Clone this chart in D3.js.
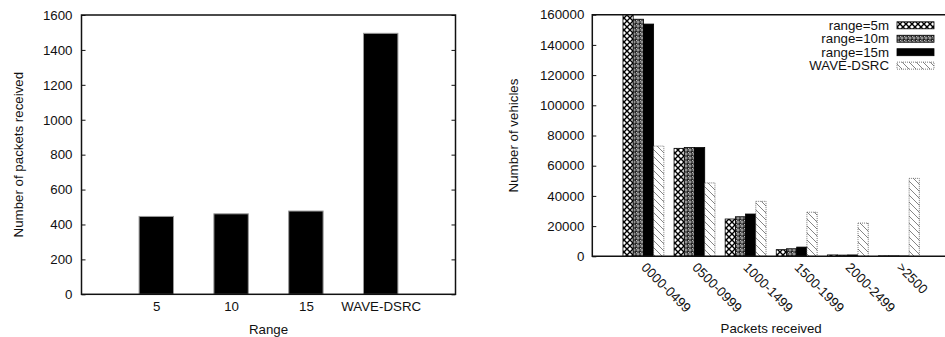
<!DOCTYPE html>
<html>
<head>
<meta charset="utf-8">
<script src="https://cdn.jsdelivr.net/npm/d3@7"></script>
<style>
  html, body { margin: 0; padding: 0; background: #fff; }
  svg { display: block; }
  text { font-family: "Liberation Sans", Arial, sans-serif; fill: #111; }
</style>
</head>
<body>
<svg id="chart" width="945" height="337"></svg>
<script>
// Left panel: packets received per transmission range
const rangeCategories = ["5", "10", "15", "WAVE-DSRC"];
const packetsReceived = [446, 461, 477, 1495];
const leftYTicks = [0, 200, 400, 600, 800, 1000, 1200, 1400, 1600];

// Right panel: distribution of vehicles over packets received
const packetBins = ["0000-0499", "0500-0999", "1000-1499", "1500-1999", "2000-2499", ">2500"];
const seriesNames = ["range=5m", "range=10m", "range=15m", "WAVE-DSRC"];
const vehicles5m   = [160000, 71500, 24700, 4400, 900, 300];
const vehicles10m  = [157000, 72000, 26200, 5000, 800, 300];
const vehicles15m  = [153800, 72000, 28000, 6100, 900, 200];
const vehiclesWave = [73000, 48600, 36400, 29200, 22000, 51600];
const rightYTicks = [0, 20000, 40000, 60000, 80000, 100000, 120000, 140000, 160000];

const svg = d3.select("#chart");
const FONT = 13.3;
const plain = d3.format("d");

// ---------- fill patterns ----------
const defs = svg.append("defs");
const cross = defs.append("pattern").attr("id", "pCross")
  .attr("patternUnits", "userSpaceOnUse").attr("width", 6).attr("height", 6);
cross.append("rect").attr("width", 6).attr("height", 6).attr("fill", "#fff");
cross.append("path").attr("d", "M0,0L6,6M6,0L0,6").attr("stroke", "#000").attr("stroke-width", 1.4);

const dots = defs.append("pattern").attr("id", "pDots")
  .attr("patternUnits", "userSpaceOnUse").attr("width", 4).attr("height", 4);
dots.append("rect").attr("width", 4).attr("height", 4).attr("fill", "#222");
dots.append("circle").attr("cx", 2).attr("cy", 2).attr("r", 1.1).attr("fill", "none")
  .attr("stroke", "#ddd").attr("stroke-width", 0.8);
dots.append("rect").attr("x", 0).attr("y", 0).attr("width", 1).attr("height", 1).attr("fill", "#bbb");

const hatch = defs.append("pattern").attr("id", "pHatch")
  .attr("patternUnits", "userSpaceOnUse").attr("width", 7).attr("height", 7);
hatch.append("rect").attr("width", 7).attr("height", 7).attr("fill", "#fff");
hatch.append("path").attr("d", "M0,0L7,7M-1,6L1,8M6,-1L8,1")
  .attr("stroke", "#777").attr("stroke-width", 0.9);

const seriesStyle = [
  { fill: "url(#pCross)", stroke: "#000", dash: null },
  { fill: "url(#pDots)",  stroke: "#000", dash: null },
  { fill: "#000",         stroke: "#000", dash: null },
  { fill: "url(#pHatch)", stroke: "#555", dash: "1,1" }
];

function styleTickText(sel) {
  sel.selectAll("text").attr("font-size", FONT)
    .style("font-family", "'Liberation Sans', Arial, sans-serif").attr("fill", "#111");
}

// ---------- left panel ----------
{
  const L = 81.5, R = 455.5, T = 15, B = 294.3;
  const x = d3.scaleLinear().domain([0, 5]).range([L, R]);
  const y = d3.scaleLinear().domain([0, 1600]).range([B, T]);
  const g = svg.append("g");

  const bw = x(0.46) - x(0);
  g.selectAll("rect.bar").data(packetsReceived).join("rect")
    .attr("class", "bar")
    .attr("x", (d, i) => x(i + 1) - bw / 2)
    .attr("y", d => y(d))
    .attr("width", bw)
    .attr("height", d => B - y(d))
    .attr("fill", "#000")
    .attr("stroke", "#999").attr("stroke-width", 1);

  // y axis with mirrored ticks
  const ya = g.append("g").attr("transform", `translate(${L},0)`)
    .call(d3.axisLeft(y).tickValues(leftYTicks).tickSize(-4).tickPadding(9).tickFormat(plain));
  ya.select(".domain").remove();
  ya.selectAll("line").attr("stroke", "#111").attr("stroke-width", 1);
  styleTickText(ya);
  const yr = g.append("g").attr("transform", `translate(${R},0)`)
    .call(d3.axisRight(y).tickValues(leftYTicks).tickSize(-4).tickFormat(""));
  yr.select(".domain").remove();
  yr.selectAll("line").attr("stroke", "#111").attr("stroke-width", 1);

  // category labels
  const xa = g.append("g").attr("transform", `translate(0,${B})`)
    .call(d3.axisBottom(x).tickValues([1, 2, 3, 4]).tickSize(0).tickPadding(7)
      .tickFormat((d) => rangeCategories[d - 1]));
  xa.select(".domain").remove();
  styleTickText(xa);

  g.append("rect").attr("x", L).attr("y", T).attr("width", R - L).attr("height", B - T)
    .attr("fill", "none").attr("stroke", "#111").attr("stroke-width", 1.5);

  g.append("text").attr("x", (L + R) / 2).attr("y", 334).attr("text-anchor", "middle")
    .attr("font-size", FONT).text("Range");
  g.append("text").attr("transform", `translate(22.5,${(T + B) / 2}) rotate(-90)`)
    .attr("text-anchor", "middle").attr("font-size", FONT).text("Number of packets received");
}

// ---------- right panel ----------
{
  const L = 592.3, R = 950, T = 14.7, B = 256.3;
  const x = d3.scaleLinear().domain([-1, 6]).range([L, R]);
  const y = d3.scaleLinear().domain([0, 160000]).range([B, T]);
  const g = svg.append("g");
  const series = [vehicles5m, vehicles10m, vehicles15m, vehiclesWave];
  const bw = x(0.2) - x(0);

  series.forEach((vals, s) => {
    const st = seriesStyle[s];
    g.selectAll(`rect.s${s}`).data(vals).join("rect")
      .attr("class", `s${s}`)
      .attr("x", (d, i) => x(i + (s - 2) * 0.2))
      .attr("y", d => y(d))
      .attr("width", bw)
      .attr("height", d => B - y(d))
      .attr("fill", st.fill)
      .attr("stroke", st.stroke).attr("stroke-width", 0.8)
      .attr("stroke-dasharray", st.dash);
  });

  const ya = g.append("g").attr("transform", `translate(${L},0)`)
    .call(d3.axisLeft(y).tickValues(rightYTicks).tickSize(-4).tickPadding(8).tickFormat(plain));
  ya.select(".domain").remove();
  ya.selectAll("line").attr("stroke", "#111").attr("stroke-width", 1);
  styleTickText(ya);

  // frame: left, bottom, top
  g.append("path").attr("d", `M${R},${T}H${L}V${B}H${R}`)
    .attr("fill", "none").attr("stroke", "#111").attr("stroke-width", 1.5);

  // rotated category labels
  g.selectAll("text.bin").data(packetBins).join("text")
    .attr("class", "bin")
    .attr("transform", (d, i) => `translate(${x(i) - 3},${B + 12}) rotate(45)`)
    .attr("font-size", FONT).text(d => d);

  g.append("text").attr("x", (L + R) / 2).attr("y", 333).attr("text-anchor", "middle")
    .attr("font-size", FONT).text("Packets received");
  g.append("text").attr("transform", `translate(518,${(T + B) / 2}) rotate(-90)`)
    .attr("text-anchor", "middle").attr("font-size", FONT).text("Number of vehicles");

  // legend
  const lg = g.append("g");
  seriesNames.forEach((name, s) => {
    const cy = 25.3 + s * 13.45;
    lg.append("text").attr("x", 889).attr("y", cy).attr("dy", "0.35em")
      .attr("text-anchor", "end").attr("font-size", FONT).text(name);
    const st = seriesStyle[s];
    lg.append("rect").attr("x", 897).attr("y", cy - 3.5).attr("width", 37).attr("height", 7)
      .attr("fill", st.fill).attr("stroke", st.stroke).attr("stroke-width", 0.8)
      .attr("stroke-dasharray", st.dash);
  });
}
</script>
</body>
</html>
